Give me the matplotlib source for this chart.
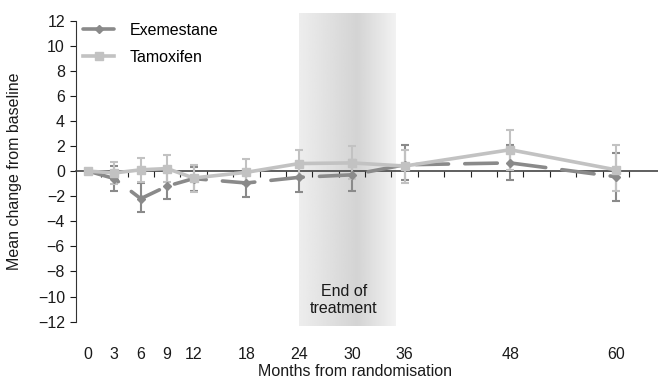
import numpy as np
import matplotlib
matplotlib.use("Agg")
import matplotlib.pyplot as plt

plt.rcParams["font.family"] = ["Liberation Sans", "DejaVu Sans"]
plt.rcParams["font.size"] = 11.5

# months from randomisation
months = [0, 3, 6, 9, 12, 18, 24, 30, 36, 48, 60]

# mean change from baseline with error bar limits
exe_mean = [0.0, -0.6, -2.2, -1.2, -0.6, -0.95, -0.5, -0.3, 0.5, 0.65, -0.45]
exe_low = [0.0, -1.6, -3.3, -2.25, -1.6, -2.1, -1.65, -1.55, -0.75, -0.75, -2.4]
exe_high = [0.0, 0.4, -0.95, -0.1, 0.35, 0.1, 0.55, 0.85, 2.05, 2.1, 1.45]

tam_mean = [0.0, -0.15, 0.1, 0.2, -0.55, -0.1, 0.6, 0.65, 0.4, 1.7, 0.1]
tam_low = [0.0, -1.0, -0.9, -0.85, -1.65, -1.05, -0.45, -0.6, -0.95, 0.1, -1.55]
tam_high = [0.0, 0.75, 1.05, 1.25, 0.5, 1.0, 1.65, 2.0, 1.7, 3.3, 2.05]

yticks = list(range(-12, 13, 2))
treatment_end = (24, 35)

exe_col = "#8a8a8a"
tam_col = "#c2c2c2"
txt_col = "#1a1a1a"

fig = plt.figure(figsize=(6.58, 3.78), dpi=100)
ax = fig.add_axes([76 / 658, 1 - 326 / 378, 1 - 76 / 658, 313 / 378])
ax.set_xlim(-1.36, 64.8)
ax.set_ylim(-12.35, 12.6)

# shaded "end of treatment" band, lighter towards the edges
shade = np.interp(np.linspace(0, 1, 200), [0, 0.6, 1], [0.93, 0.83, 0.95])
ax.imshow(shade[None, :], cmap="gray", vmin=0, vmax=1, aspect="auto",
          extent=[treatment_end[0], treatment_end[1], -12.35, 12.6], zorder=0)
ax.text(sum(treatment_end) / 2 - 0.4, -10.3, "End of\ntreatment", ha="center", va="center",
        color=txt_col, linespacing=1.15)

m = np.array(months)
e = np.array(exe_mean)
t = np.array(tam_mean)
ax.errorbar(m, e, yerr=[e - np.array(exe_low), np.array(exe_high) - e], fmt="none",
            ecolor=exe_col, elinewidth=1.5, capsize=3, capthick=1.5, zorder=2)
ax.errorbar(m, t, yerr=[t - np.array(tam_low), np.array(tam_high) - t], fmt="none",
            ecolor=tam_col, elinewidth=1.5, capsize=3, capthick=1.5, zorder=3)
ax.plot(m, e, color=exe_col, lw=2.6, dashes=(9, 4.5), dash_capstyle="round",
        marker="D", ms=4, label="Exemestane", zorder=4)
ax.plot(m, t, color=tam_col, lw=2.6, marker="s", ms=5.5, label="Tamoxifen", zorder=5)

# axes: y spine on the left, x line through zero
for s in ("top", "right"):
    ax.spines[s].set_visible(False)
ax.spines["left"].set_bounds(-12, 12)
ax.spines["left"].set_color("#333333")
ax.spines["bottom"].set_position(("data", 0))
ax.spines["bottom"].set_color("#444444")
ax.spines["bottom"].set_linewidth(1.2)
ax.set_yticks(yticks)
ax.set_yticklabels([str(v).replace("-", "\u2212") for v in yticks])
ax.tick_params(axis="y", length=4, pad=4, colors=txt_col)
ax.set_xticks(np.arange(1.5, 64, 3))
ax.set_xticklabels([])
ax.tick_params(axis="x", length=4, direction="out", color="#222222")

sec = ax.secondary_xaxis(0)
sec.spines["bottom"].set_visible(False)
sec.set_xticks(months)
sec.set_xticklabels([str(v) for v in months])
sec.tick_params(length=0, pad=15, colors=txt_col)

ax.legend(loc="upper left", bbox_to_anchor=(83 / 658, 1 - 23 / 378),
          bbox_transform=fig.transFigure, frameon=False, handlelength=1.95,
          handletextpad=0.95, labelspacing=0.75, borderaxespad=0, borderpad=0)

fig.text(15 / 658, 1 - 171 / 378, "Mean change from baseline", rotation=90,
         ha="center", va="center", color=txt_col)
fig.text(355 / 658, 1 - 371 / 378, "Months from randomisation", ha="center",
         va="center", color=txt_col)

fig.savefig("out.png", dpi=100)
